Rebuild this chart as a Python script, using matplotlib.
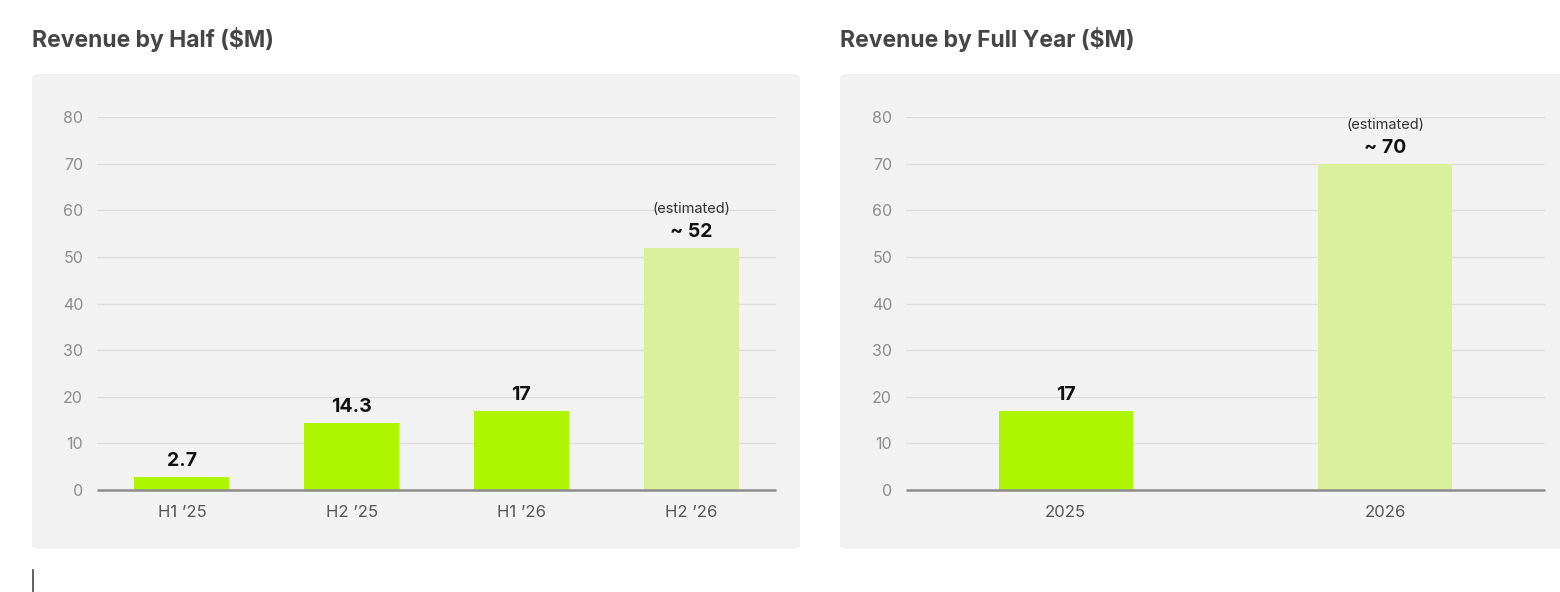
import matplotlib.pyplot as plt
from matplotlib.patches import FancyBboxPatch
from matplotlib.lines import Line2D

plt.rcParams['font.family'] = ['Inter', 'DejaVu Sans']

# data
half_labels = ['H1 ’25', 'H2 ’25', 'H1 ’26', 'H2 ’26']
half_values = [2.7, 14.3, 17, 52]
half_text = ['2.7', '14.3', '17', '~ 52']
half_est = [False, False, False, True]

year_labels = ['2025', '2026']
year_values = [17, 70]
year_text = ['17', '~ 70']
year_est = [False, True]

yticks = [0, 10, 20, 30, 40, 50, 60, 70, 80]

GREEN = '#adf500'
LIGHT = '#dcef9c'
W, H = 1560, 592

fig = plt.figure(figsize=(15.6, 5.92), dpi=100)
fig.patch.set_facecolor('white')


def px(x0, y0, x1, y1):
    # pixel box (top-left origin) -> figure fraction
    return [x0 / W, 1 - y1 / H, (x1 - x0) / W, (y1 - y0) / H]


def panel(box, ax_box, title, title_x, labels, values, texts, est, width):
    b = px(*box)
    fig.add_artist(FancyBboxPatch((b[0], b[1]), b[2], b[3],
                                  boxstyle='round,pad=0,rounding_size=0.006',
                                  transform=fig.transFigure, facecolor='#f2f2f2',
                                  edgecolor='none', zorder=-10))
    fig.text(title_x / W, 1 - 40 / H, title, fontsize=16.5, fontweight='bold',
             color='#454545', va='center', ha='left')
    ax = fig.add_axes(px(*ax_box))
    ax.set_facecolor('none')
    x = list(range(len(labels)))
    colors = [LIGHT if e else GREEN for e in est]
    ax.bar(x, values, width=width, color=colors, zorder=2)
    ax.set_xlim(-0.5, len(labels) - 0.5)
    ax.set_ylim(0, 80)
    ax.set_yticks(yticks)
    ax.set_xticks(x)
    ax.set_xticklabels(labels)
    ax.tick_params(length=0, labelsize=11.5, colors='#8c8c8c', pad=10)
    ax.tick_params(axis='x', labelsize=12, colors='#555555', pad=11)
    ax.grid(axis='y', color='#dedede', linewidth=1, zorder=0)
    for s in ax.spines.values():
        s.set_visible(False)
    ax.axhline(0, color='#8c8c8c', linewidth=1.8, zorder=3, clip_on=False,
               solid_capstyle='butt')
    for xi, v, t, e in zip(x, values, texts, est):
        ax.annotate(t, (xi, v), xytext=(0, 5), textcoords='offset points',
                    ha='center', va='bottom', fontsize=14, fontweight='bold',
                    color='#111111')
        if e:
            ax.annotate('(estimated)', (xi, v), xytext=(0, 23), textcoords='offset points',
                        ha='center', va='bottom', fontsize=10.5, color='#333333')
    return ax


panel((32, 74, 800, 549), (97, 117, 776, 490), 'Revenue by Half ($M)', 32,
      half_labels, half_values, half_text, half_est, 0.56)
panel((840, 74, 1575, 549), (906, 117, 1545, 490), 'Revenue by Full Year ($M)', 840,
      year_labels, year_values, year_text, year_est, 0.42)

# text cursor at the bottom left
fig.add_artist(Line2D([33 / W, 33 / W], [1 - 570 / H, 1 - 591 / H], color='#444444',
                      linewidth=1.2, transform=fig.transFigure))

fig.savefig('out.png', dpi=100)
